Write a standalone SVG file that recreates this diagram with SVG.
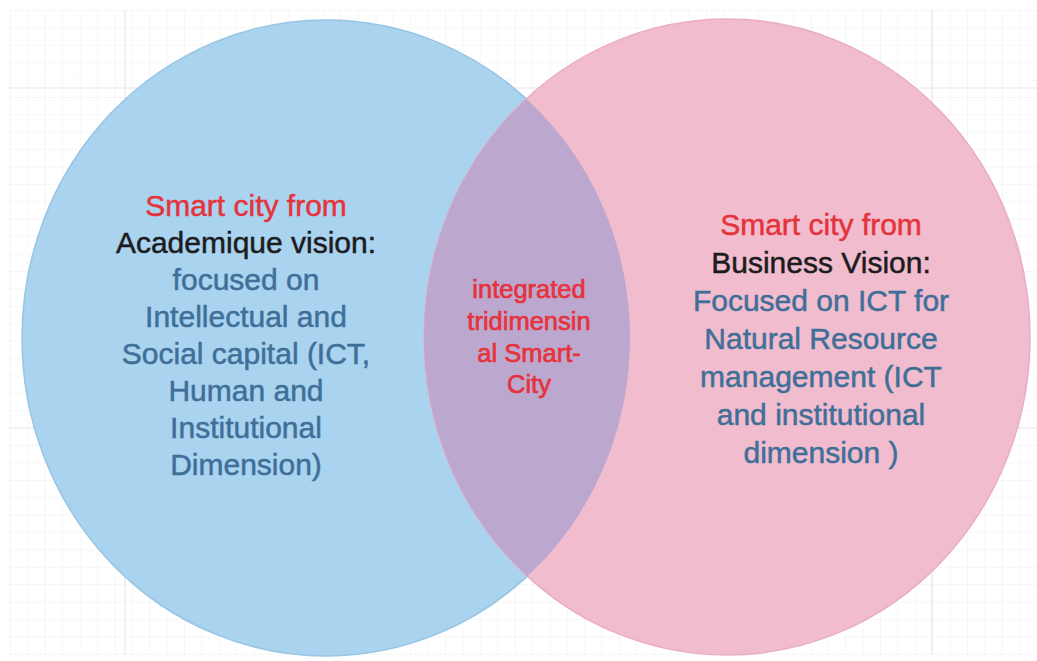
<svg xmlns="http://www.w3.org/2000/svg" width="1037" height="661" viewBox="0 0 1037 661">
  <defs>
    <pattern id="grid" x="10" y="10" width="17.4" height="17.4" patternUnits="userSpaceOnUse">
      <path d="M0 0H17.4M0 0V17.4" fill="none" stroke="#ededed" stroke-width="1"/>
    </pattern>
    <clipPath id="clipLeft">
      <ellipse cx="326" cy="338" rx="304" ry="318"/>
    </clipPath>
    <style>
      .t { font-family: "Liberation Sans", Arial, Helvetica, sans-serif; font-size: 30px; text-anchor: middle; stroke-width: 0.5px; }
      .c { font-family: "Liberation Sans", Arial, Helvetica, sans-serif; font-size: 25.5px; text-anchor: middle; fill: #e5333c; stroke: #e5333c; stroke-width: 0.7px; }
      .red { fill: #e5333c; stroke: #e5333c; }
      .blk { fill: #1c1c1e; stroke: #1c1c1e; }
      .blu { fill: #3f6f98; stroke: #3f6f98; }
      .major { stroke: #ebe6e8; stroke-width: 1.2; }
    </style>
  </defs>
  <rect width="1037" height="661" fill="#ffffff"/>
  <g id="background">
    <rect x="8" y="10" width="1029" height="645" fill="url(#grid)"/>
    <line class="major" x1="8" y1="88" x2="1037" y2="88"/>
    <line class="major" x1="8" y1="428" x2="1037" y2="428"/>
    <line class="major" x1="125" y1="10" x2="125" y2="655"/>
    <line class="major" x1="932" y1="10" x2="932" y2="655"/>
  </g>
  <g id="academic">
    <ellipse cx="326" cy="338" rx="304" ry="318" fill="#a9d3ee" stroke="#98c5e5" stroke-width="1.5"/>
  </g>
  <g id="business">
    <ellipse cx="727" cy="337" rx="303" ry="318" fill="#f1bccd" stroke="#e8afc3" stroke-width="1.5"/>
  </g>
  <g id="overlap">
    <ellipse cx="727" cy="337" rx="303" ry="318" fill="#bca7cf" clip-path="url(#clipLeft)"/>
  </g>
  <g id="connectors"></g>
  <g id="academic-label">
    <text class="t red" x="246" y="216">Smart city from</text>
    <text class="t blk" x="246" y="253">Academique vision:</text>
    <text class="t blu" x="246" y="290">focused on</text>
    <text class="t blu" x="246" y="327">Intellectual and</text>
    <text class="t blu" x="246" y="364">Social capital (ICT,</text>
    <text class="t blu" x="246" y="401">Human and</text>
    <text class="t blu" x="246" y="438">Institutional</text>
    <text class="t blu" x="246" y="475">Dimension)</text>
  </g>
  <g id="overlap-label">
    <text class="c" x="529" y="298">integrated</text>
    <text class="c" x="529" y="330">tridimensin</text>
    <text class="c" x="529" y="362">al Smart-</text>
    <text class="c" x="529" y="393">City</text>
  </g>
  <g id="business-label">
    <text class="t red" x="821" y="235">Smart city from</text>
    <text class="t blk" x="821" y="273">Business Vision:</text>
    <text class="t blu" x="821" y="311">Focused on ICT for</text>
    <text class="t blu" x="821" y="349">Natural Resource</text>
    <text class="t blu" x="821" y="387">management (ICT</text>
    <text class="t blu" x="821" y="425">and institutional</text>
    <text class="t blu" x="821" y="463">dimension )</text>
  </g>
</svg>
